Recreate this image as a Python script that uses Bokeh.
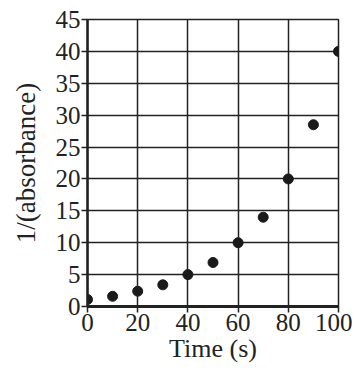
from bokeh.plotting import figure
from bokeh.embed import file_html
from bokeh.resources import INLINE
from bokeh.models import Range1d, FixedTicker

time_s = [0, 10, 20, 30, 40, 50, 60, 70, 80, 90, 100]
inv_abs = [1.1, 1.6, 2.4, 3.4, 5.0, 6.9, 10.0, 14.0, 20.0, 28.5, 40.0]
x_ticks = [0, 20, 40, 60, 80, 100]
y_ticks = [0, 5, 10, 15, 20, 25, 30, 35, 40, 45]

p = figure(width=352, height=365, output_backend="svg", toolbar_location=None,
           x_range=Range1d(0, 100), y_range=Range1d(0, 45),
           min_border_left=87, min_border_right=14, min_border_top=19, min_border_bottom=59)
p.background_fill_color = "white"
p.border_fill_color = "white"
p.outline_line_color = "#222222"
p.outline_line_width = 1.5

font = "Liberation Serif"
for ax in (p.xaxis[0], p.yaxis[0]):
    ax.major_label_text_font = font
    ax.major_label_text_font_size = "25px"
    ax.major_label_text_color = "#222222"
    ax.axis_label_text_font = font
    ax.axis_label_text_font_size = "26px"
    ax.axis_label_text_font_style = "normal"
    ax.axis_label_text_color = "#222222"
    ax.axis_line_color = "#222222"
    ax.major_tick_line_color = "#222222"
    ax.major_tick_line_width = 1.5
    ax.major_tick_in = 0
    ax.major_tick_out = 6
    ax.minor_tick_line_color = None
    ax.major_label_standoff = 1

p.xaxis[0].ticker = FixedTicker(ticks=x_ticks)
p.yaxis[0].ticker = FixedTicker(ticks=y_ticks)
p.xaxis[0].axis_line_width = 3
p.yaxis[0].axis_line_width = 2.5
p.xaxis[0].axis_label = "Time (s)"
p.yaxis[0].axis_label = "1/(absorbance)"
p.xaxis[0].major_label_standoff = 1
p.xaxis[0].axis_label_standoff = 0
p.yaxis[0].axis_label_standoff = 12
p.yaxis[0].axis_label_text_font_size = "27px"

p.xgrid[0].ticker = FixedTicker(ticks=x_ticks)
p.ygrid[0].ticker = FixedTicker(ticks=y_ticks)
p.grid.grid_line_color = "#222222"
p.grid.grid_line_width = 1.5
p.grid.grid_line_alpha = 1.0

p.scatter(time_s, inv_abs, size=10, color="#1a1a1a")

open("out.html", "w").write(file_html(p, INLINE))
